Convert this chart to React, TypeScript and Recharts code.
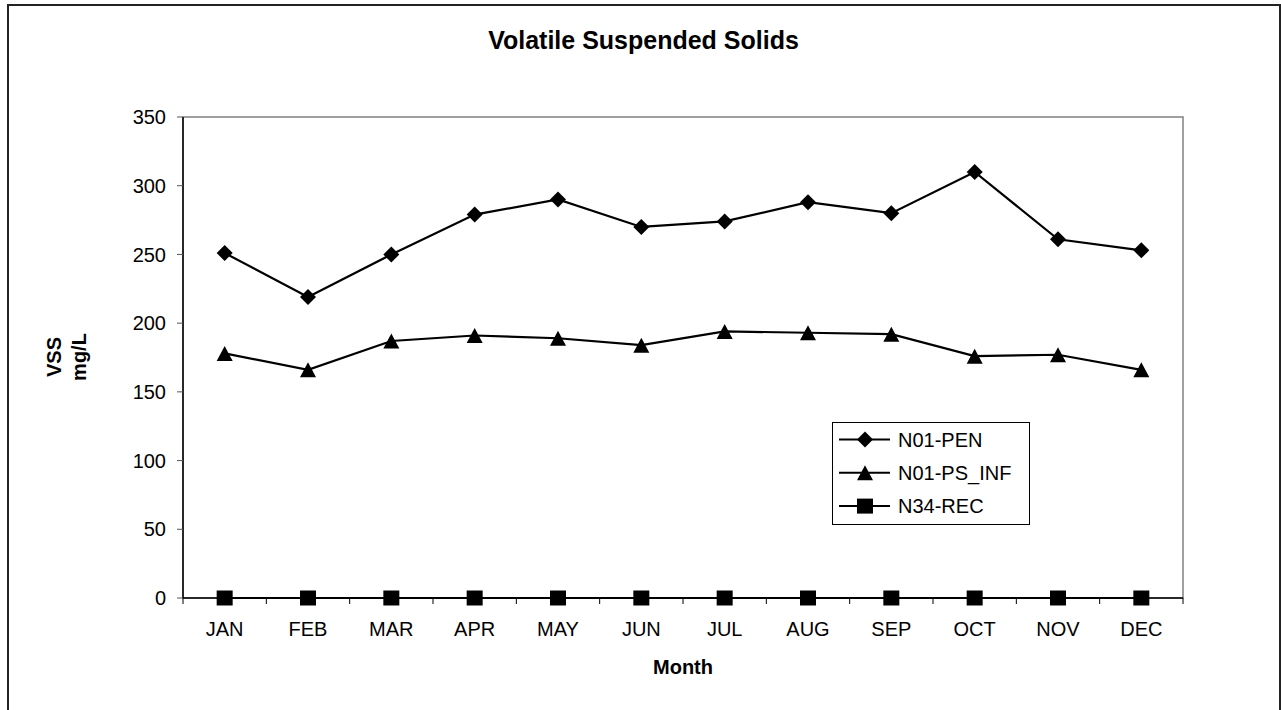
import React from 'react';
import { LineChart, Line, XAxis, YAxis, ReferenceArea, Legend } from 'recharts';

const months = ['JAN', 'FEB', 'MAR', 'APR', 'MAY', 'JUN', 'JUL', 'AUG', 'SEP', 'OCT', 'NOV', 'DEC'];
const penValues = [251, 219, 250, 279, 290, 270, 274, 288, 280, 310, 261, 253];
const psInfValues = [178, 166, 187, 191, 189, 184, 194, 193, 192, 176, 177, 166];
const recValues = [0, 0, 0, 0, 0, 0, 0, 0, 0, 0, 0, 0];
const yTicks = [0, 50, 100, 150, 200, 250, 300, 350];

const data = months.map((m, i) => ({
    month: m,
    pen: penValues[i],
    psInf: psInfValues[i],
    rec: recValues[i],
}));

const FONT = "'Liberation Sans', Arial, sans-serif";
const PLOT_W = 1000;
const BAND = PLOT_W / months.length;

const diamondPath = (cx: number, cy: number) => `M${cx},${cy - 8}L${cx + 8},${cy}L${cx},${cy + 8}L${cx - 8},${cy}Z`;
const trianglePath = (cx: number, cy: number) => `M${cx},${cy - 7.5}L${cx + 8},${cy + 7.5}L${cx - 8},${cy + 7.5}Z`;
const squarePath = (cx: number, cy: number) => `M${cx - 8},${cy - 7.5}H${cx + 8}V${cy + 7.5}H${cx - 8}Z`;

const markerFor: Record<string, (cx: number, cy: number) => string> = {
    pen: diamondPath,
    psInf: trianglePath,
    rec: squarePath,
};

const makeDot = (key: string) => (p: any) => (
    <path key={`${key}-${p.index}`} d={markerFor[key](p.cx, p.cy)} fill="#000" />
);

// category labels in the middle, tick marks on the boundaries (Excel style)
const MonthTick = (props: any) => {
    const { x, y, payload, index } = props;
    const axisY = y - 24;
    return (
        <g>
            <line x1={x - BAND / 2} y1={axisY} x2={x - BAND / 2} y2={axisY + 6} stroke="#000" />
            {index === months.length - 1 && (
                <line x1={x + BAND / 2} y1={axisY} x2={x + BAND / 2} y2={axisY + 6} stroke="#000" />
            )}
            <text x={x} y={y} dy="0.71em" textAnchor="middle" fontSize={20} fontFamily={FONT} fill="#000">
                {payload.value}
            </text>
        </g>
    );
};

const LegendBox = (props: any) => (
    <svg width={198} height={103} style={{ display: 'block' }}>
        <rect x={0.5} y={0.5} width={197} height={102} fill="#fff" stroke="#000" />
        {(props.payload || []).map((entry: any, i: number) => {
            const cy = 17.5 + i * 33.3;
            return (
                <g key={entry.dataKey}>
                    <line x1={7} y1={cy} x2={58} y2={cy} stroke="#000" strokeWidth={2} />
                    <path d={markerFor[entry.dataKey](33, cy)} fill="#000" />
                    <text x={66} y={cy} dy="0.355em" fontSize={20} fontFamily={FONT} fill="#000">
                        {entry.value}
                    </text>
                </g>
            );
        })}
    </svg>
);

export default function App() {
    return (
        <div style={{ position: 'absolute', left: 0, top: 0, width: 1281, height: 710, overflow: 'hidden', background: '#fff' }}>
            <div
                style={{
                    position: 'absolute',
                    left: 7,
                    top: 4,
                    width: 1274,
                    height: 720,
                    boxSizing: 'border-box',
                    border: '2px solid #222',
                }}
            />
            <div
                style={{
                    position: 'absolute',
                    left: 0,
                    top: 28,
                    width: 1287,
                    textAlign: 'center',
                    fontFamily: FONT,
                    fontWeight: 'bold',
                    fontSize: 25,
                    lineHeight: '25px',
                    color: '#000',
                }}
            >
                Volatile Suspended Solids
            </div>
            <div style={{ position: 'absolute', left: 0, top: 0 }}>
                <LineChart
                    width={1281}
                    height={710}
                    data={data}
                    margin={{ top: 117, right: 98, bottom: 82, left: 123 }}
                >
                    <ReferenceArea y1={0} y2={350} fill="none" stroke="#808080" strokeWidth={1.5} />
                    <XAxis
                        dataKey="month"
                        scale="band"
                        height={30}
                        tickSize={6}
                        tickMargin={18}
                        tickLine={false}
                        tick={<MonthTick />}
                        interval={0}
                        axisLine={{ stroke: '#000', strokeWidth: 1.5 }}
                        label={{
                            content: (p: any) => (
                                <text
                                    x={p.viewBox.x + p.viewBox.width / 2}
                                    y={674}
                                    textAnchor="middle"
                                    fontSize={20}
                                    fontWeight="bold"
                                    fontFamily={FONT}
                                    fill="#000"
                                >
                                    Month
                                </text>
                            ),
                        }}
                    />
                    <YAxis
                        width={60}
                        domain={[0, 350]}
                        ticks={yTicks}
                        interval={0}
                        tickSize={6}
                        tickMargin={11}
                        tick={{ fontSize: 20, fontFamily: FONT, fill: '#000' }}
                        tickLine={{ stroke: '#555' }}
                        axisLine={{ stroke: '#000', strokeWidth: 1.5 }}
                        label={{
                            content: () => (
                                <g fontSize={20} fontWeight="bold" fontFamily={FONT} fill="#000">
                                    <text x={61} y={357} textAnchor="middle" transform="rotate(-90, 61, 357)">
                                        VSS
                                    </text>
                                    <text x={86} y={357} textAnchor="middle" transform="rotate(-90, 86, 357)">
                                        mg/L
                                    </text>
                                </g>
                            ),
                        }}
                    />
                    <Legend
                        layout="vertical"
                        align="center"
                        verticalAlign="middle"
                        content={<LegendBox />}
                        wrapperStyle={{ left: 832, top: 422, width: 198, height: 103 }}
                    />
                    <Line
                        name="N01-PEN"
                        dataKey="pen"
                        stroke="#000"
                        strokeWidth={2.2}
                        dot={makeDot('pen')}
                        activeDot={false}
                        isAnimationActive={false}
                    />
                    <Line
                        name="N01-PS_INF"
                        dataKey="psInf"
                        stroke="#000"
                        strokeWidth={2.2}
                        dot={makeDot('psInf')}
                        activeDot={false}
                        isAnimationActive={false}
                    />
                    <Line
                        name="N34-REC"
                        dataKey="rec"
                        stroke="#000"
                        strokeWidth={2.2}
                        dot={makeDot('rec')}
                        activeDot={false}
                        isAnimationActive={false}
                    />
                </LineChart>
            </div>
        </div>
    );
}
